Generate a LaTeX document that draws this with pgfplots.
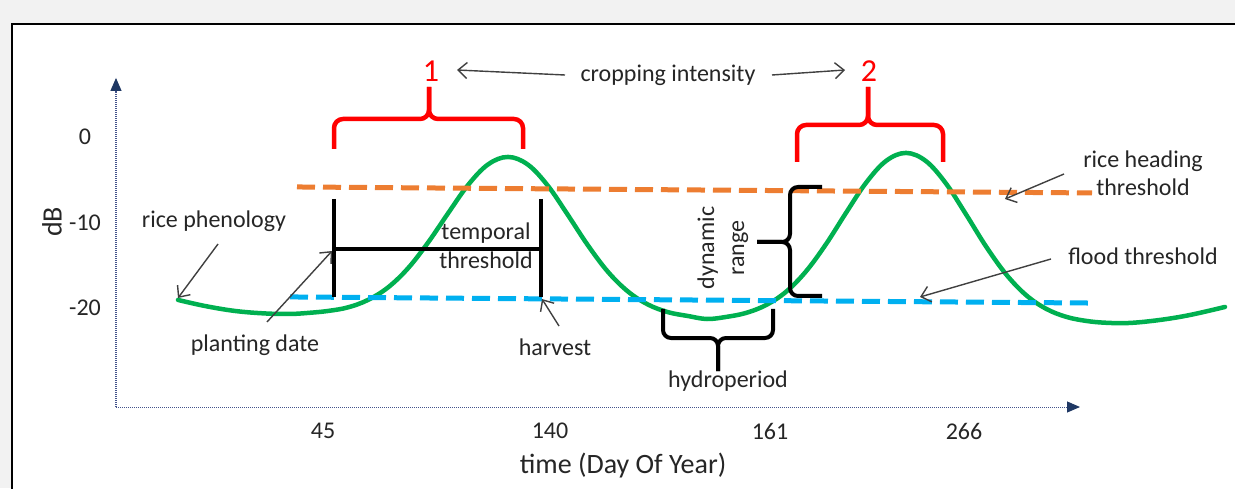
\documentclass[border=0pt]{standalone}
\usepackage{fontspec}
\setmainfont{Carlito}
\usepackage{pgfplots}
\pgfplotsset{compat=1.18}
\usetikzlibrary{arrows.meta}
\definecolor{rgreen}{RGB}{0,176,80}
\definecolor{rorange}{RGB}{237,125,49}
\definecolor{rblue}{RGB}{0,176,240}
\definecolor{rred}{RGB}{255,0,0}
\definecolor{txt}{RGB}{38,38,38}
\definecolor{arr}{RGB}{64,64,64}
\definecolor{axl}{RGB}{68,84,140}
\definecolor{axa}{RGB}{31,56,100}
\definecolor{bg}{RGB}{242,242,242}
\newcommand{\fs}{\fontsize{24}{26}\selectfont}
\pgfplotstableread{
x y
178 -19.06
205 -19.77
235 -20.35
265 -20.64
290 -20.70
308 -20.58
328 -20.35
348 -19.93
368 -19.06
388 -17.60
408 -15.36
428 -12.36
448 -8.94
468 -5.63
488 -3.22
508 -2.34
528 -3.25
548 -5.73
568 -9.15
588 -12.69
608 -15.78
628 -18.08
648 -19.60
668 -20.49
688 -20.94
707 -21.29
726 -21.05
746 -20.58
766 -19.66
786 -18.11
806 -15.72
826 -12.54
846 -8.88
866 -5.37
886 -2.81
906 -1.87
926 -2.83
946 -5.45
966 -9.05
986 -12.80
1006 -16.05
1026 -18.49
1046 -20.09
1066 -21.03
1086 -21.51
1106 -21.73
1130 -21.75
1160 -21.40
1190 -20.82
1225 -19.88
}\ricecurve
\begin{document}
\begin{tikzpicture}
\path[use as bounding box] (0,0) rectangle (1235pt,488pt);
\fill[bg] (0,0) rectangle (1235pt,488pt);
\fill[white] (12pt,0) rectangle (1235pt,464pt);
\draw[black, line width=2pt] (12pt,-2pt) -- (12pt,464pt) -- (1240pt,464pt);
\begin{axis}[
  at={(116pt,81pt)}, anchor=south west,
  scale only axis, width=964pt, height=329pt,
  xmin=116, xmax=1080, ymin=-31.58, ymax=6.90,
  axis lines=left,
  axis line style={draw=axl, densely dotted, line width=1pt, -{Triangle[length=13pt,width=11pt,color=axa]}},
  clip=false,
  xtick={323,550,770,964}, xticklabels={45,140,161,266},
  ytick={0,-10,-20}, yticklabels={0,-10,-20},
  major tick length=0pt, tick style={draw=none},
  xticklabel style={anchor=center, yshift=-24pt},
  yticklabel style={anchor=center, xshift=-31pt},
  tick label style={font=\fs, text=txt},
  xlabel={time (Day Of Year)}, ylabel={dB},
  xlabel style={at={(rel axis cs:0.526,-0.1793)}, anchor=center, font=\fontsize{28}{30}\selectfont, text=txt},
  ylabel style={at={(rel axis cs:-0.0664,0.5624)}, anchor=center, font=\fontsize{28}{30}\selectfont, text=txt},
]
\addplot[rgreen, line width=4.5pt, smooth, tension=0.6, line cap=round] table[x=x,y=y] {\ricecurve};
\addplot[rorange, line width=5pt, dash pattern=on 18pt off 8pt] coordinates {(297,-5.85) (1092,-6.55)};
\addplot[rblue, line width=5pt, dash pattern=on 18pt off 8pt] coordinates {(290,-18.71) (1088,-19.42)};
\addplot[black, line width=4pt] coordinates {(334,-7.25) (334,-18.71)};
\addplot[black, line width=4pt] coordinates {(541,-7.25) (541,-18.71)};
\addplot[black, line width=4pt] coordinates {(334,-13.10) (541,-13.10)};
\end{axis}
\begin{scope}[x=1pt,y=-1pt,yshift=488pt,
  every node/.style={font=\fs, text=txt, inner sep=0pt, text height=17pt, text depth=5pt},
  arrow/.style={arr, line width=1.4pt, -{Straight Barb[length=9pt,width=16pt]}}]
\draw[rred, line width=4.5pt, rounded corners=9pt] (334,149) -- (334,119) -- (429,119) -- (429,87);
\draw[rred, line width=4.5pt, rounded corners=9pt] (523,149) -- (523,119) -- (429,119) -- (429,87);
\draw[rred, line width=4.5pt, rounded corners=9pt] (797,162) -- (797,125) -- (868,125) -- (868,87);
\draw[rred, line width=4.5pt, rounded corners=9pt] (943,162) -- (943,125) -- (868,125) -- (868,87);
\node[text=rred, font=\fontsize{32}{34}\selectfont, text height=20pt, text depth=0pt] at (431,72) {1};
\node[text=rred, font=\fontsize{32}{34}\selectfont, text height=20pt, text depth=0pt] at (869,72) {2};
\node at (668,76) {cropping intensity};
\draw[arrow] (565,75) -- (457,70);
\draw[arrow] (772,75) -- (845,70);
\draw[black, line width=4pt, rounded corners=8pt] (822,187) -- (790,187) -- (790,242) -- (757,242);
\draw[black, line width=4pt, rounded corners=8pt] (822,296) -- (790,296) -- (790,242) -- (757,242);
\draw[black, line width=4pt, rounded corners=8pt] (663,309) -- (663,338) -- (718,338) -- (718,371);
\draw[black, line width=4pt, rounded corners=8pt] (773,309) -- (773,338) -- (718,338) -- (718,371);
\node[rotate=90] at (708,248) {dynamic};
\node[rotate=90] at (738,248) {range};
\node at (728,381) {hydroperiod};
\node at (486,234) {temporal};
\node at (486,263) {threshold};
\node at (214,222) {rice phenology};
\draw[arrow] (218,244) -- (178,298);
\node at (255,346) {planting date};
\draw[arrow] (267,322) -- (332,251);
\node at (555,349) {harvest};
\draw[arrow] (559,326) -- (542,299);
\node at (1143,162) {rice heading};
\node at (1143,190) {threshold};
\draw[arrow] (1064,174) -- (1005,199);
\node at (1143,259) {flood threshold};
\draw[arrow] (1051,259) -- (920,297);
\end{scope}
\end{tikzpicture}
\end{document}
